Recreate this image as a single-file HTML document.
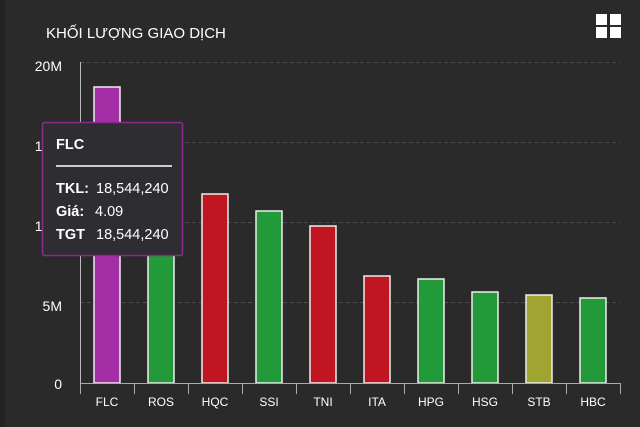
<!DOCTYPE html><html><head><style>body{margin:0;background:#2a2a2a}svg{display:block}</style></head><body>
<svg width="640" height="427" xmlns="http://www.w3.org/2000/svg" font-family="Liberation Sans, sans-serif">
<rect width="640" height="427" fill="#2a2a2a"/>
<rect width="5" height="427" fill="#222"/>
<text x="46" y="38" fill="#fff" font-size="15">KHỐI LƯỢNG GIAO DỊCH</text>
<g fill="#fff"><rect x="596" y="14" width="11" height="11"/><rect x="610" y="14" width="11" height="11"/><rect x="596" y="27" width="11" height="11"/><rect x="610" y="27" width="11" height="11"/></g>
<g stroke="#4a4a4a" stroke-dasharray="4,3"><line x1="80" x2="620" y1="62.5" y2="62.5"/><line x1="80" x2="620" y1="142.5" y2="142.5"/><line x1="80" x2="620" y1="222.5" y2="222.5"/><line x1="80" x2="620" y1="302.5" y2="302.5"/></g>
<g fill="#fff" font-size="14" text-anchor="end"><text x="62" y="71">20M</text><text x="62" y="151">15M</text><text x="62" y="231">10M</text><text x="62" y="311">5M</text><text x="62" y="389">0</text></g>
<line x1="80.5" y1="62" x2="80.5" y2="383" stroke="#bbb"/>
<g stroke="#eee" stroke-width="1.5">
<rect x="94" y="87" width="26" height="296" fill="#a32ea6"/>
<rect x="148" y="230" width="26" height="153" fill="#239a3a"/>
<rect x="202" y="194" width="26" height="189" fill="#bf1622"/>
<rect x="256" y="211" width="26" height="172" fill="#239a3a"/>
<rect x="310" y="226" width="26" height="157" fill="#bf1622"/>
<rect x="364" y="276" width="26" height="107" fill="#bf1622"/>
<rect x="418" y="279" width="26" height="104" fill="#239a3a"/>
<rect x="472" y="292" width="26" height="91" fill="#239a3a"/>
<rect x="526" y="295" width="26" height="88" fill="#a0a532"/>
<rect x="580" y="298" width="26" height="85" fill="#239a3a"/>
</g>
<g stroke="#aaa"><line x1="80" y1="383.5" x2="621" y2="383.5"/>
<line x1="80.5" y1="383" x2="80.5" y2="394"/><line x1="134.5" y1="383" x2="134.5" y2="394"/><line x1="188.5" y1="383" x2="188.5" y2="394"/><line x1="242.5" y1="383" x2="242.5" y2="394"/><line x1="296.5" y1="383" x2="296.5" y2="394"/><line x1="350.5" y1="383" x2="350.5" y2="394"/><line x1="404.5" y1="383" x2="404.5" y2="394"/><line x1="458.5" y1="383" x2="458.5" y2="394"/><line x1="512.5" y1="383" x2="512.5" y2="394"/><line x1="566.5" y1="383" x2="566.5" y2="394"/><line x1="620.5" y1="383" x2="620.5" y2="394"/></g>
<g fill="#fff" font-size="12" text-anchor="middle"><text x="107" y="406">FLC</text><text x="161" y="406">ROS</text><text x="215" y="406">HQC</text><text x="269" y="406">SSI</text><text x="323" y="406">TNI</text><text x="377" y="406">ITA</text><text x="431" y="406">HPG</text><text x="485" y="406">HSG</text><text x="539" y="406">STB</text><text x="593" y="406">HBC</text></g>
<rect x="42.5" y="122.5" width="140" height="133" rx="2" fill="#2e2e32" stroke="#8a2c8c" stroke-width="1.5"/>
<g fill="#fff" font-size="14.5"><text x="56" y="149" font-weight="bold">FLC</text>
<text x="56" y="193" font-weight="bold">TKL:</text><text x="96" y="193">18,544,240</text>
<text x="56" y="216" font-weight="bold">Giá:</text><text x="95" y="216">4.09</text>
<text x="56" y="239" font-weight="bold">TGT</text><text x="96" y="239">18,544,240</text></g>
<line x1="56" y1="166" x2="172" y2="166" stroke="#ccc" stroke-width="2"/>
</svg></body></html>
